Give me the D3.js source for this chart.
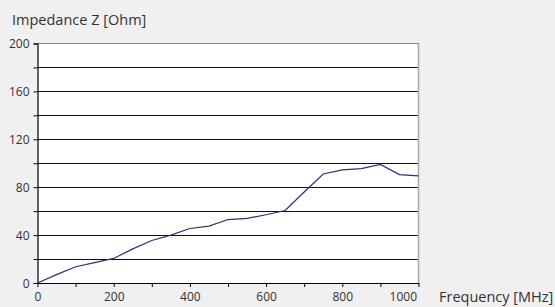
<!DOCTYPE html>
<meta charset="utf-8">
<script src="https://d3js.org/d3.v7.min.js"></script>
<style>
  body { margin: 0; background: #f0f0f0; }
  text { font-family: "Open Sans", sans-serif; fill: #333; }
</style>
<body></body>
<script>
// frequency in MHz, impedance in Ohm
var freq = [0, 50, 100, 150, 200, 250, 300, 350, 400, 450, 500, 550, 600, 650, 700, 750, 800, 850, 900, 950, 1000];
var impedance = [0, 7, 13.6, 17, 20.5, 28.5, 35.5, 40, 45.5, 47.5, 53, 54, 57, 60.5, 76, 91, 94.5, 95.5, 99, 90.5, 89.5];
var yTicks = [0, 20, 40, 60, 80, 100, 120, 140, 160, 180, 200];
var yLabels = [0, 40, 80, 120, 160, 200];
var xTicks = [0, 100, 200, 300, 400, 500, 600, 700, 800, 900, 1000];
var xLabels = [0, 200, 400, 600, 800, 1000];

var width = 555, height = 307;
var plotLeft = 37.5, plotRight = 418.5, plotTop = 43.5, plotBottom = 283;

var svg = d3.select("body").append("svg")
    .attr("width", width)
    .attr("height", height);

var x = d3.scaleLinear().domain([0, 1000]).range([plotLeft, plotRight]);
var y = d3.scaleLinear().domain([0, 200]).range([plotBottom, plotTop]);

// plot area
svg.append("rect")
    .attr("x", plotLeft).attr("y", plotTop)
    .attr("width", plotRight - plotLeft).attr("height", plotBottom - plotTop)
    .attr("fill", "#fff");

// gridlines
svg.selectAll("line.grid").data(yTicks.slice(1, -1)).enter().append("line")
    .attr("class", "grid")
    .attr("x1", plotLeft).attr("x2", plotRight)
    .attr("y1", function(d) { return Math.round(y(d)) + 0.5; })
    .attr("y2", function(d) { return Math.round(y(d)) + 0.5; })
    .attr("stroke", "#111").attr("stroke-width", 1);

// top and right borders
svg.append("line")
    .attr("x1", plotLeft).attr("x2", plotRight + 1)
    .attr("y1", plotTop).attr("y2", plotTop)
    .attr("stroke", "#888");
svg.append("line")
    .attr("x1", plotRight).attr("x2", plotRight)
    .attr("y1", plotTop).attr("y2", plotBottom)
    .attr("stroke", "#aaa").attr("stroke-width", 1.5);

// y axis
var yAxis = svg.append("g")
    .attr("transform", "translate(" + plotLeft + ",0)")
    .call(d3.axisLeft(y).tickValues(yTicks).tickSize(4)
      .tickFormat(function(d) { return yLabels.indexOf(d) >= 0 ? d : ""; }));
yAxis.select(".domain").attr("stroke", "#000").attr("stroke-width", 1.2);
yAxis.selectAll(".tick line").attr("stroke", "#000");
yAxis.selectAll("text").attr("font-size", 12).attr("fill", "#333")
    .attr("font-family", "'Open Sans', sans-serif").attr("dx", "-1").attr("dy", "0.35em");

// x axis
var xAxis = svg.append("g")
    .attr("transform", "translate(0," + plotBottom + ")")
    .call(d3.axisBottom(x).tickValues(xTicks).tickSize(4).tickSizeOuter(0)
      .tickFormat(function(d) { return xLabels.indexOf(d) >= 0 ? d : ""; }));
xAxis.select(".domain").attr("stroke", "#000").attr("stroke-width", 1.2);
xAxis.selectAll(".tick line").attr("stroke", "#000");
xAxis.selectAll("text").attr("font-size", 12).attr("fill", "#333")
    .attr("font-family", "'Open Sans', sans-serif").attr("dy", "0.9em");
xAxis.selectAll(".tick text").filter(function(d) { return d === 1000; })
    .attr("text-anchor", "end").attr("dx", "-2");

// series
var line = d3.line()
    .x(function(d, i) { return x(freq[i]); })
    .y(function(d) { return y(d); });

svg.append("path")
    .datum(impedance)
    .attr("d", line)
    .attr("fill", "none")
    .attr("stroke", "#2b2f7e")
    .attr("stroke-width", 1.2);

// titles
svg.append("text")
    .attr("x", 12).attr("y", 25)
    .attr("font-size", 14.5)
    .text("Impedance Z [Ohm]");

svg.append("text")
    .attr("x", 439).attr("y", 302)
    .attr("font-size", 14.5)
    .text("Frequency [MHz]");
</script>
